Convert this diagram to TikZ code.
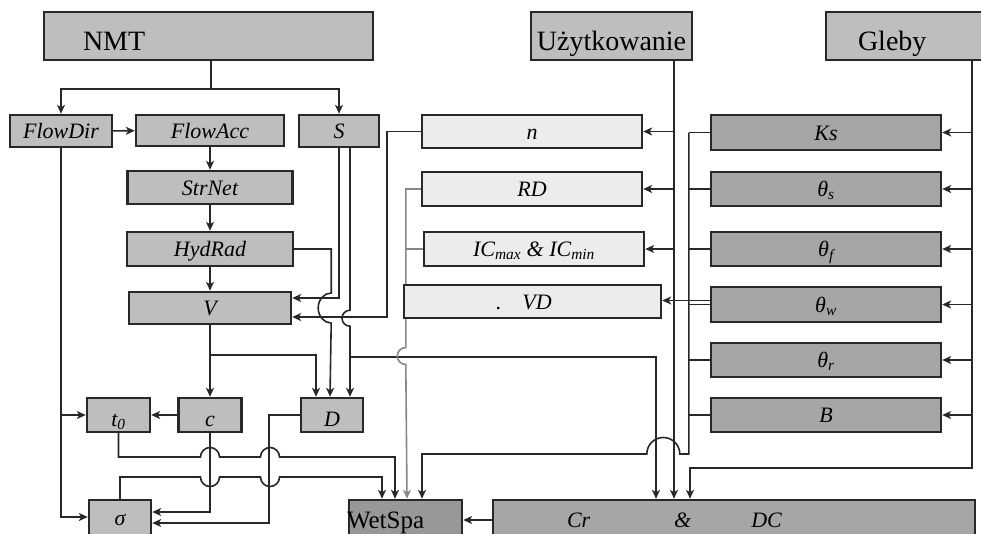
\documentclass[tikz,border=0pt]{standalone}
\usepackage{fontspec}
\setmainfont{Liberation Serif}
\usetikzlibrary{arrows.meta,backgrounds}

\definecolor{boxgray}{RGB}{190,190,192}
\definecolor{soilgray}{RGB}{166,166,168}
\definecolor{outgray}{RGB}{152,152,154}
\definecolor{parlight}{RGB}{236,236,236}
\definecolor{linegray}{RGB}{135,135,135}
\definecolor{inkdark}{RGB}{40,40,40}

\begin{document}
\begin{tikzpicture}[x=1pt, y=-1pt,
        srcbox/.style={draw=inkdark, line width=1.4pt, fill=boxgray, inner sep=0pt,
            text height=28pt, text depth=0pt, minimum height=48pt,
            font=\fontsize{28}{30}\selectfont},
        calcbox/.style={draw=inkdark, line width=2.4pt, fill=boxgray, inner sep=0pt,
            text height=15pt, text depth=0pt, font=\fontsize{22}{24}\selectfont\itshape},
        parambox/.style={calcbox, fill=parlight},
        soilbox/.style={calcbox, fill=soilgray, minimum width=230pt},
        link/.style={draw=inkdark, line width=1.6pt},
        arr/.style={link, -{Stealth[length=9pt,width=8pt,inset=2.5pt]}},
        grayarr/.style={arr, draw=linegray}]
        \useasboundingbox (0,0) rectangle (981,533);
        \clip (0,0) rectangle (981,533);

        % input maps
        \node[srcbox, minimum width=329pt, text width=329pt, align=left] (nmt) at (208.5,36) {\hspace*{39pt}NMT};
        \node[srcbox, minimum width=161pt] (uzyt) at (611.5,36) {Użytkowanie};
        \node[srcbox, minimum width=174pt, text width=174pt, align=left] (gleby) at (913,36) {\hspace*{32pt}Gleby};

        % terrain derived maps
        \node[calcbox, minimum width=102pt, minimum height=32pt] (flowdir) at (61,131) {FlowDir};
        \node[calcbox, minimum width=148pt, minimum height=31pt] (flowacc) at (210,130.5) {FlowAcc};
        \node[calcbox, minimum width=80pt, minimum height=32pt] (slope) at (339,131) {S};
        \node[calcbox, minimum width=165pt, minimum height=33pt] (strnet) at (210,187.5) {StrNet};
        \node[calcbox, minimum width=166pt, minimum height=34pt] (hydrad) at (210,249) {HydRad};
        \node[calcbox, minimum width=162pt, minimum height=32pt] (vel) at (210,308) {V};
        \node[calcbox, minimum width=63pt, minimum height=34pt, text height=22pt] (tzero) at (118.5,415) {t\textsubscript{0}};
        \node[calcbox, minimum width=63pt, minimum height=34pt, text height=22pt] (celer) at (210,415) {c};
        \node[calcbox, minimum width=62pt, minimum height=34pt, text height=22pt] (disp) at (332,415) {D};
        \node[calcbox, minimum width=62pt, minimum height=40pt, text height=10pt] (sigma) at (120,520) {σ};

        % model and outputs
        \node[calcbox, fill=outgray, minimum width=113pt, minimum height=40pt, text width=113pt, align=left,
            text height=16pt, font=\fontsize{25}{27}\selectfont] (wetspa) at (405.5,520) {\hspace*{-2pt}WetSpa};
        \node[calcbox, fill=soilgray, minimum width=482pt, minimum height=40pt, text width=482pt, align=left]
            (crdc) at (734,520) {\hspace*{74pt}Cr\hspace{84pt}\&\hspace{60pt}DC};

        % land use parameters
        \node[parambox, minimum width=220pt, minimum height=33pt] (mann) at (532,131.5) {n};
        \node[parambox, minimum width=220pt, minimum height=34pt] (rootd) at (532,189) {RD};
        \node[parambox, minimum width=220pt, minimum height=34pt] (icap) at (534,249) {IC\textsubscript{max} \& IC\textsubscript{min}};
        \node[parambox, minimum width=257pt, minimum height=33pt, text width=257pt, align=left]
            (vegd) at (532.5,301.5) {\hspace*{92pt}.\hspace{21pt}VD};

        % soil parameters
        \node[soilbox, minimum height=35pt] (ks) at (826,132.5) {Ks};
        \node[soilbox, minimum height=34pt] (ths) at (826,189) {θ\textsubscript{s}};
        \node[soilbox, minimum height=34pt] (thf) at (826,249) {θ\textsubscript{f}};
        \node[soilbox, minimum height=35pt] (thw) at (826,304.5) {θ\textsubscript{w}};
        \node[soilbox, minimum height=34pt] (thr) at (826,360) {θ\textsubscript{r}};
        \node[soilbox, minimum height=34pt] (bpar) at (826,415) {B};

        \begin{scope}[on background layer]
        % terrain chain
        \draw[link] ([xshift=2.5pt]nmt.south) -- ++(0,28) coordinate (nmtsplit);
        \draw[arr] (nmtsplit) -| (flowdir);
        \draw[arr] (nmtsplit) -| (slope);
        \draw[arr] (flowdir) -- (flowacc);
        \draw[arr] (flowacc) -- (strnet);
        \draw[arr] (strnet) -- (hydrad);
        \draw[arr] (hydrad) -- (vel);
        \draw[arr] (vel) -- (celer);
        \draw[arr] (vel.south) ++(0,30) -| ([xshift=-16pt]disp.north);
        \draw[arr] (hydrad.east) -- ++(37,0) -- ++(0,44)
            arc[start angle=270, end angle=90, x radius=13, y radius=15] -- ([xshift=-2pt]disp.north);
        \draw[arr] (slope.south) |- ([yshift=10pt]vel.east);
        \draw[arr] ([xshift=11pt]slope.south) -- ++(0,162)
            arc[start angle=270, end angle=90, radius=8] -- ([xshift=18pt]disp.north);
        \draw[arr] ([xshift=11pt]slope.south) ++(0,209) -| ([xshift=-78pt]crdc.north);
        \draw[arr] (mann.west) -- ++(-34,0) |- ([yshift=-9pt]vel.east);
        \draw[grayarr] (rootd.west) -- ++(-15,0) -- ++(0,158.5)
            arc[start angle=270, end angle=90, radius=8.5] -- ([xshift=1.5pt]wetspa.north);
        \draw[link, draw=linegray] (icap.west) -- ++(-17,0);

        % routing parameters
        \draw[arr] (flowdir.south) |- (tzero.west);
        \draw[arr] (flowdir.south) |- ([yshift=3pt]sigma.west);
        \draw[arr] (celer) -- (tzero);
        \draw[arr] (tzero.south) |- (200.5,457) arc[start angle=180, end angle=360, radius=9.5]
            -- (260.5,457) arc[start angle=180, end angle=360, radius=9.5] -| ([xshift=-10.5pt]wetspa.north);
        \draw[arr] (sigma.north) |- (200.5,477) arc[start angle=180, end angle=0, radius=9.5]
            -- (260.5,477) arc[start angle=180, end angle=0, radius=9.5] -| ([xshift=-23.5pt]wetspa.north);
        \draw[arr] (celer.south) |- ([yshift=8pt]sigma.east);
        \draw[arr] (disp.west) -- ++(-31,0) |- ([yshift=-3pt]sigma.east);

        % land use
        \coordinate (usebus) at ([xshift=62.5pt]uzyt.south);
        \draw[arr] (usebus) -- (usebus |- crdc.north);
        \foreach \p in {mann,rootd,icap}
            \draw[arr] (usebus |- \p.east) -- (\p.east);
        \draw[arr] ([yshift=4pt]thw.west) -- ([yshift=4pt]thw.west -| vegd.east);

        % soil
        \coordinate (soilbus) at ([xshift=59pt]gleby.south);
        \foreach \p in {ks,ths,thf,thw,thr,bpar}
            \draw[arr] (soilbus |- \p.east) -- (\p.east);
        \draw[arr] (soilbus) -- ++(0,407) -| ([xshift=-44pt]crdc.north);
        \foreach \p in {ks,ths,thf,thw,thr,bpar}
            \draw[link] (\p.west) -- ++(-21,0);
        \draw[arr] ([xshift=-21pt]ks.west) -- ++(0,321.5) -- ++(-9,0)
            arc[start angle=360, end angle=180, radius=16.5] -| ([xshift=16.5pt]wetspa.north);

        \draw[arr] (crdc.west) -- (wetspa.east);
        \end{scope}
    \end{tikzpicture}
\end{document}
